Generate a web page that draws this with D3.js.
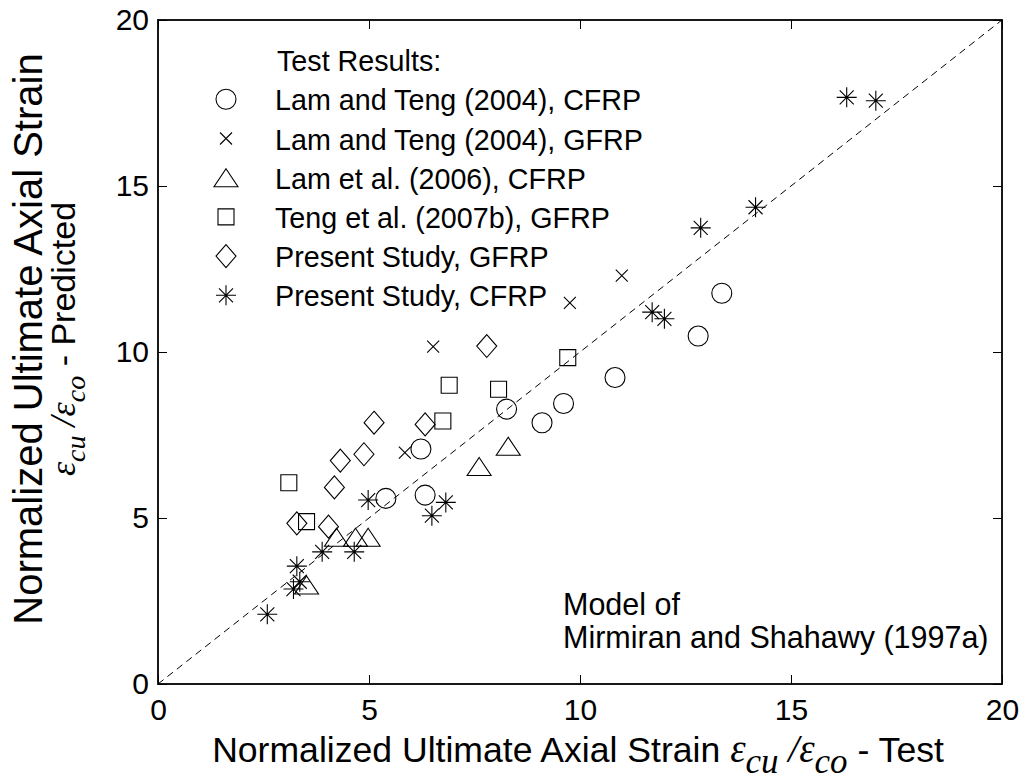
<!DOCTYPE html>
<html><head><meta charset="utf-8">
<script src="https://cdn.jsdelivr.net/npm/d3@7"></script>
<style>
html,body{margin:0;padding:0;background:#fff;}
svg{display:block;}
text{font-family:"Liberation Sans",Arial,sans-serif;fill:#000;}
.math{font-family:"Liberation Serif","Times New Roman",serif;font-style:italic;}
</style></head>
<body>
<svg id="chart" width="1026" height="782"></svg>
<script>
// ---- data (x = test, y = predicted) ----
const seriesNames = ["Lam and Teng (2004), CFRP","Lam and Teng (2004), GFRP","Lam et al. (2006), CFRP","Teng et al. (2007b), GFRP","Present Study, GFRP","Present Study, CFRP"];
const seriesSymbols = ["circle","cross","triangle","square","diamond","asterisk"];
const lamTengCFRP = [[6.23,7.08],[6.33,5.69],[5.40,5.59],[8.26,8.28],[9.10,7.87],[9.61,8.45],[10.83,9.23],[12.80,10.48],[13.36,11.77]];
const lamTengGFRP = [[5.85,6.97],[6.52,10.16],[9.76,11.48],[10.99,12.30]];
const lamEtAlCFRP = [[3.52,2.98],[4.23,4.42],[4.68,4.42],[4.98,4.42],[7.61,6.55],[8.30,7.16]];
const tengEtAlGFRP = [[3.10,6.06],[3.52,4.89],[6.75,7.92],[6.90,9.00],[8.07,8.88],[9.71,9.83]];
const presentGFRP = [[3.29,4.84],[4.04,4.74],[4.18,5.92],[4.32,6.73],[4.88,6.92],[5.12,7.87],[6.33,7.82],[7.79,10.18]];
const presentCFRP = [[2.59,2.10],[3.21,2.86],[3.36,3.08],[3.29,3.55],[3.89,3.98],[4.65,3.98],[4.98,5.54],[6.49,5.07],[6.82,5.47],[11.71,11.20],[12.00,11.00],[12.86,13.74],[14.16,14.36],[16.32,17.67],[17.01,17.57]];
const allSeries = [lamTengCFRP, lamTengGFRP, lamEtAlCFRP, tengEtAlGFRP, presentGFRP, presentCFRP];
const equalityLine = [[0,0],[20,20]];
const xTicks = [0,5,10,15,20];
const yTicks = [0,5,10,15,20];
const legendTitle = "Test Results:";
const noteLines = ["Model of","Mirmiran and Shahawy (1997a)"];

// ---- layout ----
const L = 158, R = 1002, T = 20, B = 684;
const svg = d3.select("#chart");
const x = d3.scaleLinear().domain([0,20]).range([L,R]);
const y = d3.scaleLinear().domain([0,20]).range([B,T]);

const symbolPaths = {
  circle: "M10,0A10,10 0 1,1 -10,0A10,10 0 1,1 10,0Z",
  cross: "M-6,-6L6,6M-6,6L6,-6",
  triangle: "M0,-9L12,9L-12,9Z",
  square: "M-8,-8H8V8H-8Z",
  diamond: "M0,-11.5L10,0L0,11.5L-10,0Z",
  asterisk: "M0,-10V10M-10,0H10M-7,-7L7,7M-7,7L7,-7"
};

// axes
const fs = 30;
const ax = svg.append("g").attr("transform",`translate(0,${B})`)
  .call(d3.axisBottom(x).tickValues(xTicks).tickSizeInner(-9).tickSizeOuter(0).tickPadding(15));
const ay = svg.append("g").attr("transform",`translate(${L},0)`)
  .call(d3.axisLeft(y).tickValues(yTicks).tickSizeInner(-9).tickSizeOuter(0).tickPadding(9));
const axT = svg.append("g").attr("transform",`translate(0,${T})`)
  .call(d3.axisTop(x).tickValues(xTicks).tickSizeInner(-9).tickSizeOuter(0).tickFormat(""));
const ayR = svg.append("g").attr("transform",`translate(${R},0)`)
  .call(d3.axisRight(y).tickValues(yTicks).tickSizeInner(-9).tickSizeOuter(0).tickFormat(""));
[ax,ay,axT,ayR].forEach(g=>{
  g.select(".domain").remove();
  g.selectAll(".tick line").attr("stroke","#000").attr("stroke-width",1);
  g.selectAll(".tick text").attr("font-size",fs).attr("font-family","Liberation Sans, Arial, sans-serif").attr("fill","#000");
});
svg.append("rect").attr("x",L).attr("y",T).attr("width",R-L).attr("height",B-T)
  .attr("fill","none").attr("stroke","#000").attr("stroke-width",1.8);

// equality line
svg.append("path").datum(equalityLine)
  .attr("d", d3.line().x(d=>x(d[0])).y(d=>y(d[1])))
  .attr("fill","none").attr("stroke","#000").attr("stroke-width",1).attr("stroke-dasharray","7,5");

// markers
allSeries.forEach((data,i)=>{
  svg.append("g").selectAll("path").data(data).join("path")
    .attr("transform",d=>`translate(${x(d[0])},${y(d[1])})`)
    .attr("d",symbolPaths[seriesSymbols[i]])
    .attr("fill","none").attr("stroke","#000").attr("stroke-width",1.1);
});

// legend
const legX = 226, legTextX = 275, legY0 = 99.3, legDy = 39.2, legFs = 28.7;
svg.append("text").attr("x",legTextX+2).attr("y",71).attr("font-size",legFs).text(legendTitle);
seriesNames.forEach((name,i)=>{
  const cy = legY0 + i*legDy;
  svg.append("path").attr("transform",`translate(${legX},${cy})`)
    .attr("d",symbolPaths[seriesSymbols[i]])
    .attr("fill","none").attr("stroke","#000").attr("stroke-width",1.1);
  svg.append("text").attr("x",legTextX).attr("y",cy+11).attr("font-size",legFs).text(name);
});

// note
noteLines.forEach((t,i)=>{
  svg.append("text").attr("x",563).attr("y",615+i*33).attr("font-size",30.5).text(t);
});

// axis labels with math
function addLabel(sel, sansA, mathSize, subSize, sansB, sansSize){
  const sh = mathSize*0.27;
  sel.append("tspan").attr("font-size",sansSize).text(sansA);
  sel.append("tspan").attr("class","math").attr("font-size",mathSize).text("ε");
  sel.append("tspan").attr("class","math").attr("font-size",subSize).attr("dy",sh).text("cu");
  sel.append("tspan").attr("class","math").attr("font-size",mathSize).attr("dy",-sh).text(" /");
  sel.append("tspan").attr("class","math").attr("font-size",mathSize).text("ε");
  sel.append("tspan").attr("class","math").attr("font-size",subSize).attr("dy",sh).text("co");
  sel.append("tspan").attr("font-size",sansSize).attr("dy",-sh).text(sansB);
}
const xl = svg.append("text").attr("x",578).attr("y",762).attr("text-anchor","middle");
addLabel(xl,"Normalized Ultimate Axial Strain ",39,35,"  - Test",35.6);

// y label
const yl = svg.append("g").attr("transform",`translate(0,339) rotate(-90)`);
yl.append("text").attr("x",0).attr("y",42).attr("text-anchor","middle").attr("font-size",40)
  .text("Normalized Ultimate Axial Strain");
const yl2 = yl.append("text").attr("x",0).attr("y",75).attr("text-anchor","middle");
addLabel(yl2,"",36,28," - Predicted",34);
</script>
</body></html>
